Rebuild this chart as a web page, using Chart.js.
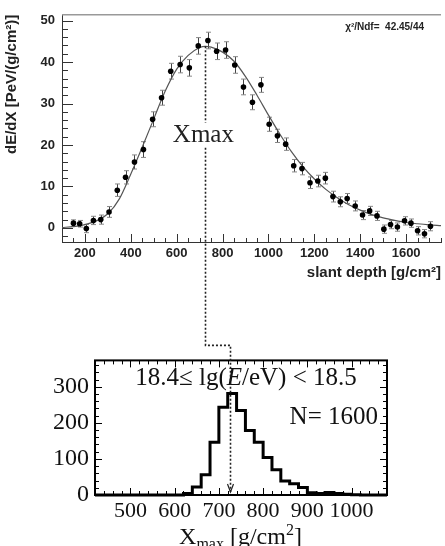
<!DOCTYPE html>
<html>
<head>
<meta charset="utf-8">
<script src="https://cdn.jsdelivr.net/npm/chart.js@4.4.1/dist/chart.umd.min.js"></script>
<style>
  html, body { margin: 0; padding: 0; background: #fff; }
  #lienzo { position: relative; width: 445px; height: 546px; overflow: hidden; }
  #perfil { position: absolute; left: 0; top: 0; }
  #histo { position: absolute; left: 0; top: 340px; }
  #enlace { position: absolute; left: 0; top: 0; pointer-events: none; }
</style>
</head>
<body>
<div id="lienzo">
  <canvas id="perfil" width="445" height="290"></canvas>
  <canvas id="histo" width="445" height="206"></canvas>
  <canvas id="enlace" width="445" height="546"></canvas>
</div>
<script>
// perfil longitudinal: profundidad (g/cm²), dE/dX (PeV/(g/cm²)) y error de cada punto
const profundidad = [150, 177, 206, 237, 269, 305, 341, 377, 416, 455, 495, 534, 574, 615, 655, 694, 736, 774, 813, 853, 891, 930, 967, 1003, 1039, 1075, 1110, 1146, 1181, 1215, 1248, 1281, 1313, 1343, 1378, 1410, 1441, 1473, 1503, 1532, 1562, 1593, 1621, 1650, 1680, 1706];
const deposito = [1.15, 1.0, -0.15, 1.8, 2.0, 3.85, 9.1, 12.2, 15.9, 18.9, 26.2, 31.4, 37.8, 39.4, 38.6, 43.9, 45.2, 42.6, 42.9, 39.3, 34.0, 30.3, 34.5, 25.0, 22.2, 20.2, 15.0, 14.3, 10.9, 11.3, 12.0, 7.55, 6.3, 7.1, 5.3, 3.1, 4.1, 2.9, -0.3, 0.8, 0.2, 1.7, 1.15, -0.7, -1.4, 0.4];
const errores = [0.8, 0.8, 1.0, 1.0, 1.1, 1.3, 1.5, 1.6, 1.7, 1.9, 1.8, 1.8, 1.9, 2.0, 2.0, 2.0, 2.0, 2.0, 2.0, 2.0, 1.9, 1.8, 1.8, 1.7, 1.6, 1.5, 1.5, 1.5, 1.4, 1.4, 1.4, 1.3, 1.2, 1.2, 1.2, 1.1, 1.1, 1.1, 1.0, 1.0, 1.0, 1.0, 1.0, 1.0, 1.0, 1.1];

// curva del ajuste (Gaisser-Hillas), muestreada
const ajusteX = [100, 150, 200, 250, 300, 350, 400, 450, 500, 550, 600, 650, 700, 725, 750, 800, 850, 900, 950, 1000, 1050, 1100, 1150, 1200, 1250, 1300, 1350, 1400, 1450, 1500, 1550, 1600, 1650, 1700, 1752];
const ajusteY = [0.1, 0.3, 0.8, 1.7, 3.4, 7.0, 13.0, 19.5, 26.3, 33.0, 38.3, 41.6, 43.5, 43.8, 43.6, 42.4, 40.2, 36.5, 32.0, 27.2, 22.6, 18.4, 14.8, 11.8, 9.3, 7.3, 5.6, 4.3, 3.2, 2.4, 1.8, 1.3, 1.0, 0.75, 0.55];

// histograma de Xmax, bines de 20 g/cm² (borde inferior de cada bin)
const binInferior = [620, 640, 660, 680, 700, 720, 740, 760, 780, 800, 820, 840, 860, 880, 900, 920, 940, 960, 980, 1000];
const cuentas = [4, 22, 56, 146, 243, 281, 234, 179, 146, 104, 70, 39, 31, 21, 6, 4, 7, 4, 2, 1];
const ANCHO_BIN = 20;

// etiquetas de los ejes
const marcasProfundidad = [200, 400, 600, 800, 1000, 1200, 1400, 1600];
const marcasDeposito = [0, 10, 20, 30, 40, 50];
const marcasXmax = [500, 600, 700, 800, 900, 1000];
const marcasCuentas = [0, 100, 200, 300];

const XMAX = 725;
const ALTURA_ROTULO = 22.2;

const SERIF = "'Liberation Serif', 'Times New Roman', serif";
Chart.defaults.font.family = "'Liberation Sans', Arial, sans-serif";
Chart.defaults.color = '#222';

const sinSeparador = v => String(v);

function linea(ctx, x1, y1, x2, y2) {
  ctx.beginPath();
  ctx.moveTo(x1, y1);
  ctx.lineTo(x2, y2);
  ctx.stroke();
}

// texto con trozos de distinta fuente (subíndices, itálicas...)
function textoMixto(ctx, partes, x, y, alineado) {
  const anchos = partes.map(([t, f]) => { ctx.font = f; return ctx.measureText(t).width; });
  const total = anchos.reduce((a, b) => a + b, 0);
  let cx = alineado === 'center' ? x - total / 2 : alineado === 'right' ? x - total : x;
  ctx.textAlign = 'left';
  ctx.textBaseline = 'alphabetic';
  partes.forEach(([t, f, dy = 0], i) => {
    ctx.font = f;
    ctx.fillText(t, cx, y + dy);
    cx += anchos[i];
  });
}

const detallesPerfil = {
  id: 'detallesPerfil',
  beforeDatasetsDraw(chart) {
    const { ctx, scales: { x, y } } = chart;
    ctx.save();
    ctx.lineWidth = 1;
    profundidad.forEach((d, i) => {
      const px = Math.round(x.getPixelForValue(d)) + 0.5;
      const arriba = y.getPixelForValue(deposito[i] + errores[i]);
      const abajo = y.getPixelForValue(deposito[i] - errores[i]);
      ctx.strokeStyle = '#444';
      linea(ctx, px, arriba, px, abajo);
      ctx.strokeStyle = '#888';
      linea(ctx, px - 2.5, arriba, px + 2.5, arriba);
      linea(ctx, px - 2.5, abajo, px + 2.5, abajo);
    });
    ctx.restore();
  },
  afterDraw(chart) {
    const { ctx, chartArea: { left, right, top, bottom }, scales: { x, y } } = chart;
    ctx.save();
    ctx.strokeStyle = '#999';
    ctx.lineWidth = 1.5;
    linea(ctx, left, top, right, top);

    ctx.strokeStyle = '#333';
    ctx.lineWidth = 1;
    for (let v = -2; v <= 50; v += 2) {
      const py = Math.round(y.getPixelForValue(v)) + 0.5;
      linea(ctx, left, py, left + (v % 10 === 0 ? 11 : 6), py);
    }
    for (let v = 150; v <= 1750; v += 50) {
      const px = Math.round(x.getPixelForValue(v)) + 0.5;
      linea(ctx, px, bottom, px, bottom - (v % 200 === 0 ? 8 : 4));
    }

    ctx.fillStyle = '#222';
    ctx.font = "bold 10px 'Liberation Sans'";
    ctx.textAlign = 'right';
    ctx.textBaseline = 'alphabetic';
    ctx.fillText('χ²/Ndf=  42.45/44', right - 17, top + 15);

    ctx.font = `25px ${SERIF}`;
    ctx.textAlign = 'center';
    ctx.textBaseline = 'middle';
    ctx.fillText('Xmax', x.getPixelForValue(XMAX) - 2, y.getPixelForValue(ALTURA_ROTULO));
    ctx.restore();
  }
};

const detallesHisto = {
  id: 'detallesHisto',
  afterDraw(chart) {
    const { ctx, chartArea: { left, right, top, bottom }, scales: { x, y } } = chart;
    ctx.save();
    ctx.strokeStyle = '#000';
    ctx.lineWidth = 1;
    for (let v = 440; v < 1080; v += 20) {
      const px = Math.round(x.getPixelForValue(v)) + 0.5;
      const largo = v % 100 === 0 ? 7 : 4;
      linea(ctx, px, bottom, px, bottom - largo);
      linea(ctx, px, top, px, top + largo);
    }
    for (let v = 20; v < 373; v += 20) {
      const py = Math.round(y.getPixelForValue(v)) + 0.5;
      const largo = v % 100 === 0 ? 7 : 4;
      linea(ctx, left, py, left + largo, py);
      linea(ctx, right, py, right - largo, py);
    }
    ctx.lineWidth = 2;
    ctx.strokeRect(left, top, right - left, bottom - top);

    ctx.fillStyle = '#111';
    textoMixto(ctx, [
      ['18.4≤ lg(', `25px ${SERIF}`],
      ['E', `italic 25px ${SERIF}`],
      ['/eV) < 18.5', `25px ${SERIF}`]
    ], 246, top + 25, 'center');

    const total = cuentas.reduce((a, b) => a + b, 0);
    textoMixto(ctx, [[`N= ${total}`, `25px ${SERIF}`]], right - 9, top + 63.5, 'right');

    textoMixto(ctx, [
      ['X', `24px ${SERIF}`],
      ['max', `16px ${SERIF}`, 5],
      [' [g/cm', `24px ${SERIF}`],
      ['2', `16px ${SERIF}`, -9],
      [']', `24px ${SERIF}`]
    ], 240.5, chart.height - 2, 'center');
    ctx.restore();
  }
};

const perfil = new Chart(document.getElementById('perfil'), {
  type: 'scatter',
  data: {
    datasets: [
      {
        data: profundidad.map((x, i) => ({ x, y: deposito[i] })),
        pointRadius: 2.8,
        backgroundColor: '#000',
        borderWidth: 0,
        order: 0
      },
      {
        type: 'line',
        data: ajusteX.map((x, i) => ({ x, y: ajusteY[i] })),
        borderColor: '#555',
        borderWidth: 1.2,
        pointRadius: 0,
        cubicInterpolationMode: 'monotone',
        order: 1
      }
    ]
  },
  options: {
    responsive: false,
    animation: false,
    events: [],
    layout: { padding: { top: 6, right: 0, left: 0, bottom: 0 } },
    plugins: { legend: { display: false }, tooltip: { enabled: false } },
    scales: {
      x: {
        type: 'linear',
        min: 100,
        max: 1752,
        afterBuildTicks: s => { s.ticks = marcasProfundidad.map(value => ({ value })); },
        afterFit: s => { s.height = 48; },
        grid: { display: false, drawTicks: false },
        border: { display: true, color: '#333', width: 1 },
        ticks: { padding: 4, autoSkip: false, maxRotation: 0, color: '#222', font: { size: 13, weight: 'bold' }, callback: sinSeparador },
        title: {
          display: true,
          text: 'slant depth [g/cm²]',
          align: 'end',
          color: '#222',
          font: { size: 15, weight: 'bold' },
          padding: { top: 0, bottom: 8 }
        }
      },
      y: {
        min: -3.4,
        max: 51.4,
        afterBuildTicks: s => { s.ticks = marcasDeposito.map(value => ({ value })); },
        afterFit: s => { s.width = 62; },
        grid: { display: false, drawTicks: false },
        border: { display: true, color: '#333', width: 1 },
        ticks: { padding: 7, color: '#222', font: { size: 13, weight: 'bold' }, callback: sinSeparador },
        title: {
          display: true,
          text: 'dE/dX [PeV/(g/cm²)]',
          align: 'end',
          color: '#222',
          font: { size: 15, weight: 'bold' },
          padding: { top: 3, bottom: 0 }
        }
      }
    }
  },
  plugins: [detallesPerfil]
});

// el histograma se dibuja como escalera desde el borde inferior de cada bin
const escalera = [{ x: 420, y: 0 }]
  .concat(binInferior.map((b, i) => ({ x: b, y: cuentas[i] })))
  .concat([{ x: binInferior[binInferior.length - 1] + ANCHO_BIN, y: 0 }, { x: 1080, y: 0 }]);

const histo = new Chart(document.getElementById('histo'), {
  type: 'scatter',
  data: {
    datasets: [{
      type: 'line',
      data: escalera,
      stepped: true,
      borderColor: '#000',
      borderWidth: 3,
      borderJoinStyle: 'miter',
      pointRadius: 0,
      clip: 4
    }]
  },
  options: {
    responsive: false,
    animation: false,
    events: [],
    layout: { padding: { top: 16, right: 58, left: 0, bottom: 0 } },
    plugins: { legend: { display: false }, tooltip: { enabled: false } },
    scales: {
      x: {
        type: 'linear',
        min: 420,
        max: 1080,
        afterBuildTicks: s => { s.ticks = marcasXmax.map(value => ({ value })); },
        afterFit: s => { s.height = 51; },
        grid: { display: false, drawTicks: false },
        border: { display: false },
        ticks: { padding: 3, autoSkip: false, maxRotation: 0, color: '#111', font: { family: SERIF, size: 22 }, callback: sinSeparador }
      },
      y: {
        min: 0,
        max: 373,
        afterBuildTicks: s => { s.ticks = marcasCuentas.map(value => ({ value })); },
        afterFit: s => { s.width = 95; },
        grid: { display: false, drawTicks: false },
        border: { display: false },
        ticks: { padding: 6, color: '#111', font: { family: SERIF, size: 24 }, callback: sinSeparador }
      }
    }
  },
  plugins: [detallesHisto]
});

// línea punteada que lleva el Xmax del perfil al histograma
function dibujarEnlace() {
  const ctx = document.getElementById('enlace').getContext('2d');
  const desfase = document.getElementById('histo').offsetTop;
  const xa = Math.round(perfil.scales.x.getPixelForValue(XMAX)) + 0.5;
  const yPico = perfil.scales.y.getPixelForValue(Math.max(...ajusteY));
  const yRotulo = perfil.scales.y.getPixelForValue(ALTURA_ROTULO);
  const xb = Math.round(histo.scales.x.getPixelForValue(XMAX)) + 0.5;
  const yMarco = desfase + histo.chartArea.top;
  const yCodo = yMarco - 15;
  const yPunta = desfase + histo.scales.y.getPixelForValue(0) - 3;

  ctx.strokeStyle = '#222';
  ctx.lineWidth = 1.6;
  ctx.setLineDash([2, 2]);
  ctx.beginPath();
  ctx.moveTo(xa, yPico);
  ctx.lineTo(xa, yRotulo - 13);
  ctx.moveTo(xa, yRotulo + 12);
  ctx.lineTo(xa, yCodo);
  ctx.lineTo(xb, yCodo);
  ctx.lineTo(xb, yPunta);
  ctx.stroke();

  ctx.setLineDash([]);
  ctx.lineWidth = 1.2;
  ctx.beginPath();
  ctx.moveTo(xb - 3, yPunta - 8);
  ctx.lineTo(xb, yPunta);
  ctx.lineTo(xb + 3, yPunta - 8);
  ctx.stroke();
}

dibujarEnlace();
</script>
</body>
</html>
